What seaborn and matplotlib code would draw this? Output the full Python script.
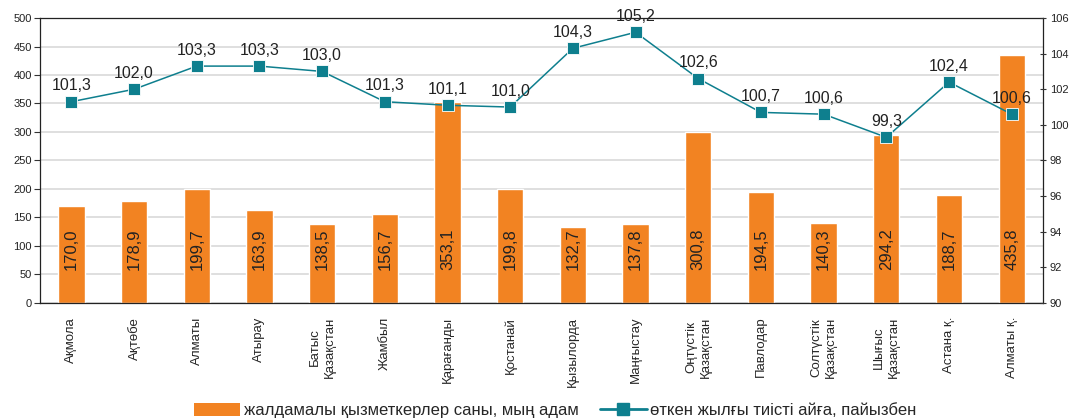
import numpy as np
import pandas as pd
import matplotlib
matplotlib.use('Agg')
import matplotlib.pyplot as plt
from matplotlib.lines import Line2D
from matplotlib.patches import Patch
import seaborn as sns

regions = ['Ақмола', 'Ақтөбе', 'Алматы', 'Атырау', 'Батыс\nҚазақстан', 'Жамбыл',
           'Қарағанды', 'Қостанай', 'Қызылорда', 'Маңғыстау', 'Оңтүстік\nҚазақстан',
           'Павлодар', 'Солтүстік\nҚазақстан', 'Шығыс\nҚазақстан', 'Астана қ.', 'Алматы қ.']
workers = [170.0, 178.9, 199.7, 163.9, 138.5, 156.7, 353.1, 199.8,
           132.7, 137.8, 300.8, 194.5, 140.3, 294.2, 188.7, 435.8]
pct_prev_year = [101.3, 102.0, 103.3, 103.3, 103.0, 101.3, 101.1, 101.0,
                 104.3, 105.2, 102.6, 100.7, 100.6, 99.3, 102.4, 100.6]

bar_label = 'жалдамалы қызметкерлер саны, мың адам'
line_label = 'өткен жылғы тиісті айға, пайызбен'

orange = '#F28322'
teal = '#0E7F8E'

sns.set_style('white')
plt.rcParams['font.family'] = ['Liberation Sans', 'DejaVu Sans']

df = pd.DataFrame({'region': regions, 'workers': workers, 'pct': pct_prev_year})

fig = plt.figure(figsize=(10.82, 4.19), dpi=100)
ax = fig.add_axes([0.037, 0.277, 0.927, 0.68])

sns.barplot(data=df, x='region', y='workers', color=orange, width=0.42,
            saturation=1, ax=ax, zorder=2)
ax.set_ylim(0, 500)
ax.set_xlim(-0.5, len(regions) - 0.5)
ax.set_yticks(np.arange(0, 501, 50))
ax.yaxis.grid(True, color='#d9d9d9', linewidth=1.2, zorder=0)
ax.set_axisbelow(True)
ax.set_xlabel('')
ax.set_ylabel('')
ax.tick_params(axis='y', labelsize=8, length=4, width=0.8, colors='#333333', labelcolor='#222222', pad=2)
for s in ['left', 'bottom', 'top', 'right']:
    ax.spines[s].set_color('#222222')
    ax.spines[s].set_linewidth(0.9)

# category labels, ticks at boundaries
ax.set_xticks(range(len(regions)))
ax.set_xticklabels(regions, rotation=90, fontsize=9.5, ha='center', va='top',
                   multialignment='center', linespacing=1.3)
ax.tick_params(axis='x', which='major', length=0, pad=10)
ax.set_xticks(np.arange(-0.5, len(regions), 1), minor=True)
ax.tick_params(axis='x', which='minor', length=5, width=0.8, colors='#333333')

for i, v in enumerate(workers):
    ax.text(i, 95, f'{v:.1f}'.replace('.', ','), rotation=90, ha='center', va='center',
            fontsize=12, color='#222222', zorder=3)

ax2 = ax.twinx()
sns.lineplot(x=np.arange(len(regions)), y=pct_prev_year, ax=ax2, color=teal,
             linewidth=1.1, marker='s', markersize=8, markeredgecolor='white',
             markeredgewidth=0.6, zorder=4)
ax2.set_ylim(90, 106)
ax2.set_yticks(np.arange(90, 107, 2))
ax2.tick_params(axis='y', labelsize=8, length=4, width=0.8, direction='inout',
                colors='#333333', labelcolor='#222222', pad=3)
for s in ax2.spines.values():
    s.set_visible(False)
for i, v in enumerate(pct_prev_year):
    ax2.annotate(f'{v:.1f}'.replace('.', ','), (i, v), xytext=(0, 6),
                 textcoords='offset points', ha='center', va='bottom',
                 fontsize=11.5, color='#222222', zorder=5)

handles = [Patch(facecolor=orange, edgecolor='none'),
           Line2D([0], [0], color=teal, linewidth=2, marker='s', markersize=8)]
fig.legend(handles, [bar_label, line_label], loc='center', bbox_to_anchor=(0.513, 0.02),
           ncol=2, frameon=False, fontsize=12, handlelength=2.8, handleheight=0.8,
           columnspacing=1.3, handletextpad=0.2, borderpad=0)

fig.savefig('out.png', dpi=100)
